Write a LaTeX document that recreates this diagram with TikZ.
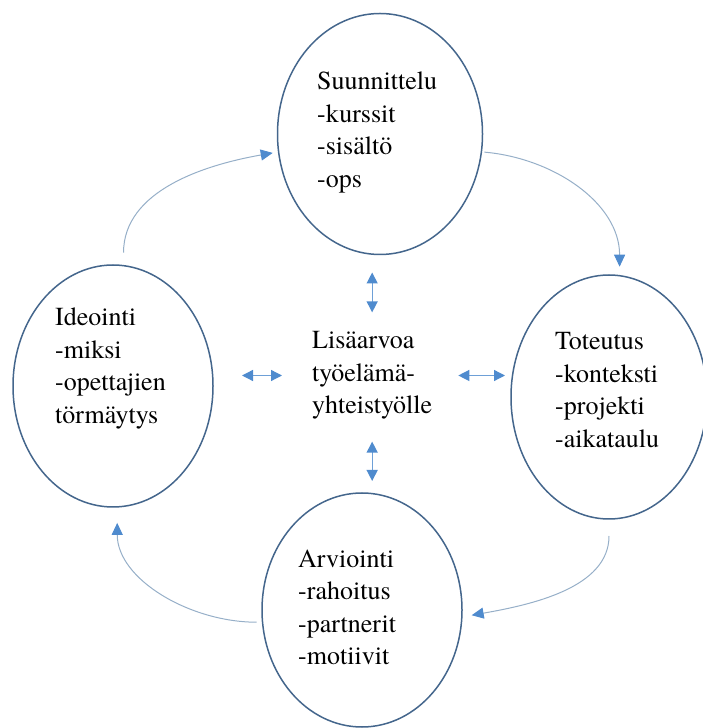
\documentclass[tikz,border=0pt]{standalone}
\usepackage{fontspec}
\setmainfont{TeX Gyre Termes}
\usetikzlibrary{arrows.meta,shapes.geometric}
\definecolor{ringblue}{RGB}{68,102,140}
\definecolor{tipblue}{RGB}{79,139,206}
\definecolor{pairblue}{RGB}{110,160,215}
\definecolor{cyclegray}{RGB}{150,175,200}

\begin{document}
\begin{tikzpicture}[x=1pt,y=1pt,
	phase/.style={draw=ringblue,line width=1.5pt,ellipse,inner sep=0pt,outer sep=0pt},
	phasetext/.style={anchor=west,align=left,inner sep=0pt,font=\fontsize{26}{32.5}\selectfont},
	cyclearrow/.style={draw=cyclegray,line width=1pt,-{Triangle[length=12pt,width=11pt,color=tipblue]}},
	twoway/.style={draw=pairblue,line width=1.3pt,{Triangle[length=11pt,width=11pt,color=tipblue]}-{Triangle[length=11pt,width=11pt,color=tipblue]}}]
			%%%%% START %%%%%
			\useasboundingbox (0,0) rectangle (702,728);
			
			\node[phase,minimum width=205pt,minimum height=241pt] (plan) at (380,594) {};
			\node[phase,minimum width=200pt,minimum height=242pt] (idea) at (113,342) {};
			\node[phase,minimum width=196pt,minimum height=244pt] (imp) at (609,331) {};
			\node[phase,minimum width=200pt,minimum height=234pt] (eval) at (362,118) {};
			
			\node[phasetext] (plantext) at (317,595.5) {Suunnittelu\\-kurssit\\-sisältö\\-ops};
			\node[phasetext] (ideatext) at (55,359.5) {Ideointi\\-miksi\\-opettajien\\törmäytys};
			\node[phasetext] (imptext) at (555,338) {Toteutus\\-konteksti\\-projekti\\-aikataulu};
			\node[phasetext] (evaltext) at (298,120.5) {Arviointi\\-rahoitus\\-partnerit\\-motiivit};
			\node[phasetext] (mid) at (312,352.5) {Lisäarvoa\\työelämä-\\yhteistyölle};
			
			% kierto
			\draw[cyclearrow,shorten <=13pt,shorten >=6pt] (idea.85) to[out=90,in=190] (plan.190);
			\draw[cyclearrow,shorten <=3pt,shorten >=9pt] (plan.-10) to[out=-5,in=90] (imp.85);
			\draw[cyclearrow,shorten <=17pt,shorten >=10pt] (imp.-90) to[out=-90,in=10] (eval.-4);
			\draw[cyclearrow,shorten <=6pt,shorten >=16pt] (eval.187) to[out=180,in=-90] (idea.-88);
			
			% keskelle
			\draw[twoway,shorten <=19pt,shorten >=18pt] (mid.north) -- (mid.north |- plan.south);
			\draw[twoway,shorten <=22pt,shorten >=12pt] (mid.south) -- (mid.south |- eval.north);
			\draw[twoway,shorten <=29pt,shorten >=30pt] (idea.east |- mid.west) -- (mid.west);
			\draw[twoway,shorten <=26pt,shorten >=6pt] (mid.east) -- (mid.east -| imp.west);
			%%%%% END %%%%%
\end{tikzpicture}
\end{document}
